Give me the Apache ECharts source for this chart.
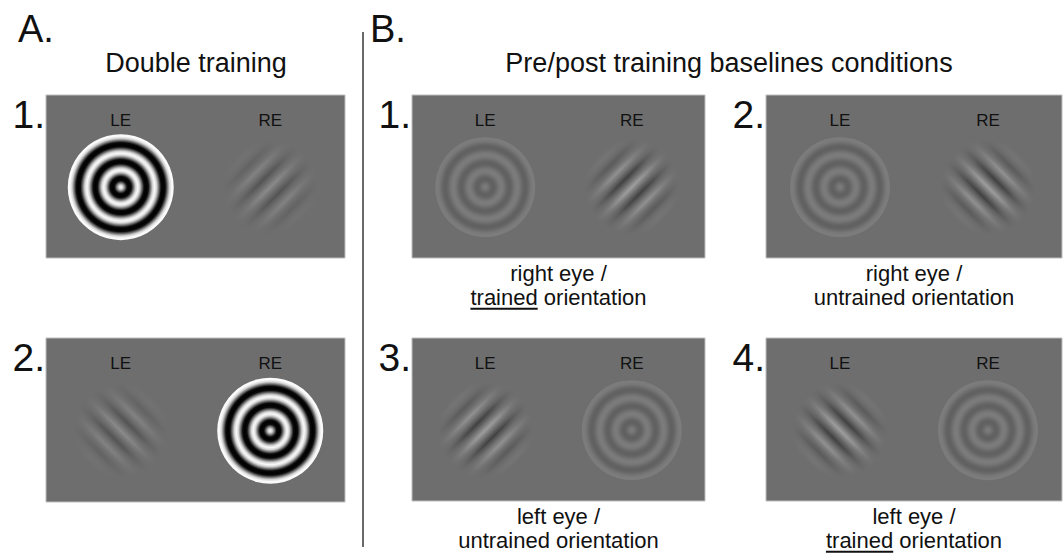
<!DOCTYPE html>
<html>
<head>
<meta charset="utf-8">
<title>Double training stimuli</title>
<script src="https://cdn.jsdelivr.net/npm/echarts@6/dist/echarts.min.js"></script>
<style>
  html, body { margin: 0; padding: 0; background: #fff; }
  #main { width: 1064px; height: 555px; }
</style>
</head>
<body>
<div id="main"></div>
<script>
// ---- data ----
const panelNames = ['A1', 'A2', 'B1', 'B2', 'B3', 'B4'];
const panelNumbers = ['1.', '2.', '1.', '2.', '3.', '4.'];
const eyes = ['LE', 'RE'];
// which eye gets the radial grating and which the gabor
const ringEye = ['LE', 'RE', 'LE', 'LE', 'RE', 'RE'];
const gaborEye = ['RE', 'LE', 'RE', 'RE', 'LE', 'LE'];
const ringContrast = [1, 1, 0.1, 0.1, 0.1, 0.1];
const gaborContrast = [0.2, 0.2, 0.34, 0.34, 0.34, 0.34];
const gaborOrient = [45, 135, 45, 135, 45, 135];   // 45 = "/", 135 = "\"
// captions under the B panels
const captionEye = ['right eye /', 'right eye /', 'left eye /', 'left eye /'];
const captionWord = ['trained', 'untrained', 'untrained', 'trained'];
const captionUnderline = [true, false, false, true];

// ---- layout / style ----
const FONT = '"Liberation Sans", Arial, sans-serif';
const GRAY = 110;
const gridBox = [
  { left: 46, top: 95, width: 299, height: 163 },
  { left: 46, top: 338, width: 299, height: 164 },
  { left: 412, top: 95, width: 293, height: 163 },
  { left: 766, top: 95, width: 296, height: 163 },
  { left: 412, top: 338, width: 293, height: 163 },
  { left: 766, top: 338, width: 296, height: 163 }
];
const ringSize = [106, 106, 100, 100, 100, 100];
// one period of the radial grating, sampled in eighths
const ringPeriod = [1, .71, 0, -.71, -1, -.71, 0, .71];
const gaborPeriod = [1, 0, -1, 0];
const maskAlpha = [[0, 0], [0.2, 0.06], [0.4, 0.28], [0.6, 0.62], [0.8, 0.88], [0.92, 1], [1, 1]];

function lum(v, c) {
  const g = Math.max(0, Math.min(255, Math.round(GRAY + v * c * 140)));
  return 'rgb(' + g + ',' + g + ',' + g + ')';
}

function ringColor(c) {
  const stops = [];
  for (let k = 0; k <= 24; k++) {
    stops.push({ offset: k * 0.04, color: lum(ringPeriod[k % 8], c) });
  }
  stops.push({ offset: 1, color: lum(1, c) });
  return { type: 'radial', x: 0.5, y: 0.5, r: 0.5, colorStops: stops };
}

function gaborColor(c, orient) {
  const stops = [];
  for (let k = -12; k <= 12; k++) {
    stops.push({ offset: 0.5 + k * 0.038, color: lum(gaborPeriod[Math.abs(k) % 4], c) });
  }
  const dir = orient === 45 ? { x: 0, y: 0, x2: 1, y2: 1 } : { x: 1, y: 0, x2: 0, y2: 1 };
  return Object.assign({ type: 'linear', colorStops: stops }, dir);
}

const maskColor = {
  type: 'radial', x: 0.5, y: 0.5, r: 0.5,
  colorStops: maskAlpha.map(s => ({ offset: s[0], color: 'rgba(' + GRAY + ',' + GRAY + ',' + GRAY + ',' + s[1] + ')' }))
};

let series = [];
panelNames.forEach((name, i) => {
  series.push({
    name: name + ' ring', type: 'scatter', xAxisIndex: i, yAxisIndex: i, silent: true, z: 2,
    symbol: 'circle', symbolSize: ringSize[i],
    itemStyle: { color: ringColor(ringContrast[i]), opacity: 1 },
    data: [[ringEye[i], 0]]
  });
  series.push({
    name: name + ' gabor', type: 'scatter', xAxisIndex: i, yAxisIndex: i, silent: true, z: 3,
    symbol: 'circle', symbolSize: 96,
    itemStyle: { color: gaborColor(gaborContrast[i], gaborOrient[i]), opacity: 1 },
    data: [[gaborEye[i], 0]]
  });
  series.push({
    name: name + ' envelope', type: 'scatter', xAxisIndex: i, yAxisIndex: i, silent: true, z: 4,
    symbol: 'circle', symbolSize: 104,
    itemStyle: { color: maskColor, opacity: 1 },
    data: [[gaborEye[i], 0]]
  });
});

// ---- text ----
const measure = document.createElement('canvas').getContext('2d');
function textWidth(str, size) {
  measure.font = size + 'px ' + FONT;
  return measure.measureText(str).width;
}
function txt(str, x, baseline, size, align) {
  return {
    type: 'text', x: x, y: baseline - 0.35 * size, silent: true,
    style: { text: str, fill: '#111', fontSize: size, fontFamily: FONT, align: align || 'center', verticalAlign: 'middle' }
  };
}

const graphic = [
  txt('A.', 18, 42, 38, 'left'),
  txt('B.', 370, 42, 38, 'left'),
  txt('Double training', 196, 72, 27),
  txt('Pre/post training baselines conditions', 729, 72, 27),
  { type: 'line', silent: true, shape: { x1: 363, y1: 32, x2: 363, y2: 547 }, style: { stroke: '#6a6a6a', lineWidth: 2 } }
];
gridBox.forEach((b, i) => {
  graphic.push(txt(panelNumbers[i], b.left - 1, b.top + 33, 39, 'right'));
});
// two-line captions, one text each; y is the middle of the block
const captionMid = [285, 285, 528, 528];
const CAP = 22, CAP_LH = 24;
captionEye.forEach((eye, j) => {
  const b = gridBox[j + 2];
  const cx = b.left + b.width / 2;
  const line2 = captionWord[j] + ' orientation';
  graphic.push({
    type: 'text', x: cx, y: captionMid[j], silent: true,
    style: { text: eye + '\n' + line2, fill: '#111', fontSize: CAP, fontFamily: FONT, lineHeight: CAP_LH, align: 'center', verticalAlign: 'middle' }
  });
  if (captionUnderline[j]) {
    const x0 = cx - textWidth(line2, CAP) / 2;
    const w = textWidth(captionWord[j], CAP);
    const y = captionMid[j] + CAP_LH / 2 + 0.35 * CAP + 4;
    graphic.push({ type: 'line', silent: true, shape: { x1: x0, y1: y, x2: x0 + w, y2: y }, style: { stroke: '#111', lineWidth: 2 } });
  }
});

const chart = echarts.init(document.getElementById('main'), null, { renderer: 'svg' });
chart.setOption({
  animation: false,
  backgroundColor: '#ffffff',
  grid: gridBox.map(b => Object.assign({ show: true, backgroundColor: 'rgb(110,110,110)', borderColor: '#bdbdbd', borderWidth: 1 }, b)),
  xAxis: panelNames.map((n, i) => ({
    type: 'category', data: eyes, gridIndex: i, position: 'top',
    axisLine: { show: false }, axisTick: { show: false }, splitLine: { show: false },
    axisLabel: { inside: true, margin: 25, verticalAlign: 'middle', color: '#111', fontSize: 17, fontFamily: FONT }
  })),
  yAxis: panelNames.map((n, i) => ({ type: 'value', gridIndex: i, min: -1, max: 1.3, show: false })),
  graphic: graphic,
  series: series
});
</script>
</body>
</html>
